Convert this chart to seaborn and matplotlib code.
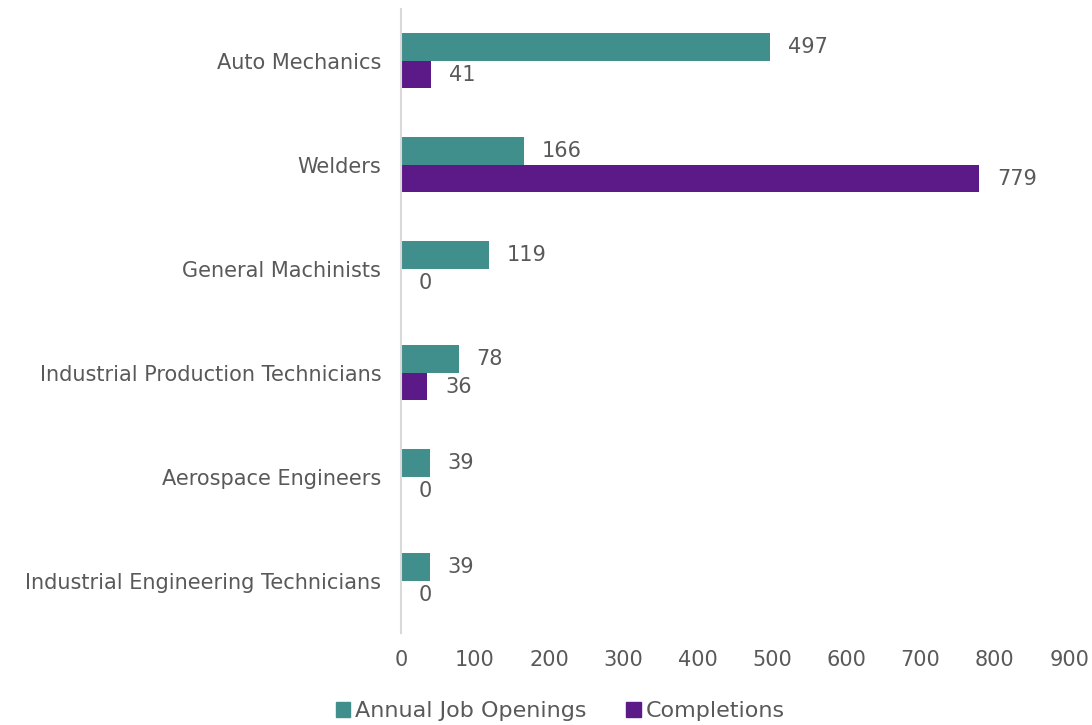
import numpy as np
import pandas as pd
import matplotlib
matplotlib.use("Agg")
import matplotlib.pyplot as plt
import seaborn as sns

# chart data
occupations = ["Auto Mechanics", "Welders", "General Machinists",
               "Industrial Production Technicians", "Aerospace Engineers",
               "Industrial Engineering Technicians"]
job_openings = [497, 166, 119, 78, 39, 39]
completions = [41, 779, 0, 36, 0, 0]
series_names = ["Annual Job Openings", "Completions"]
x_ticks = [0, 100, 200, 300, 400, 500, 600, 700, 800, 900]

# long form for seaborn
df = pd.DataFrame({
    "Occupation": occupations * 2,
    "Value": job_openings + completions,
    "Series": [series_names[0]] * len(occupations) + [series_names[1]] * len(occupations),
})

sns.set_style("white")
plt.rcParams["font.family"] = ["DejaVu Sans"]
grey = "#595959"

fig = plt.figure(figsize=(10.92, 7.25), dpi=100)
ax = fig.add_axes([0.367, 0.127, 0.612, 0.861])

palette = {series_names[0]: "#418F8C", series_names[1]: "#5C1A88"}
sns.barplot(data=df, y="Occupation", x="Value", hue="Series", order=occupations,
            hue_order=series_names, palette=palette, width=0.53, orient="h",
            saturation=1, linewidth=0, ax=ax)

for cont in ax.containers:
    ax.bar_label(cont, padding=13, fontsize=15, color=grey)

ax.set_xlim(0, 900)
ax.set_xticks(x_ticks)
ax.set_xlabel("")
ax.set_ylabel("")
ax.tick_params(axis="both", length=0, labelcolor=grey)
ax.tick_params(axis="x", pad=12, labelsize=15)
ax.tick_params(axis="y", pad=14, labelsize=15)
for s in ["top", "right", "bottom"]:
    ax.spines[s].set_visible(False)
ax.spines["left"].set_color("#D9D9D9")
ax.spines["left"].set_linewidth(1.5)

ax.legend_.remove()
handles = [plt.Rectangle((0, 0), 1, 1, color=palette[n]) for n in series_names]
fig.legend(handles, series_names, loc="center", bbox_to_anchor=(0.513, 0.019),
           ncol=2, frameon=False, fontsize=16, labelcolor=grey,
           handlelength=0.65, handleheight=0.65, handletextpad=0.2, columnspacing=1.8)

fig.savefig("out.png", dpi=100)
